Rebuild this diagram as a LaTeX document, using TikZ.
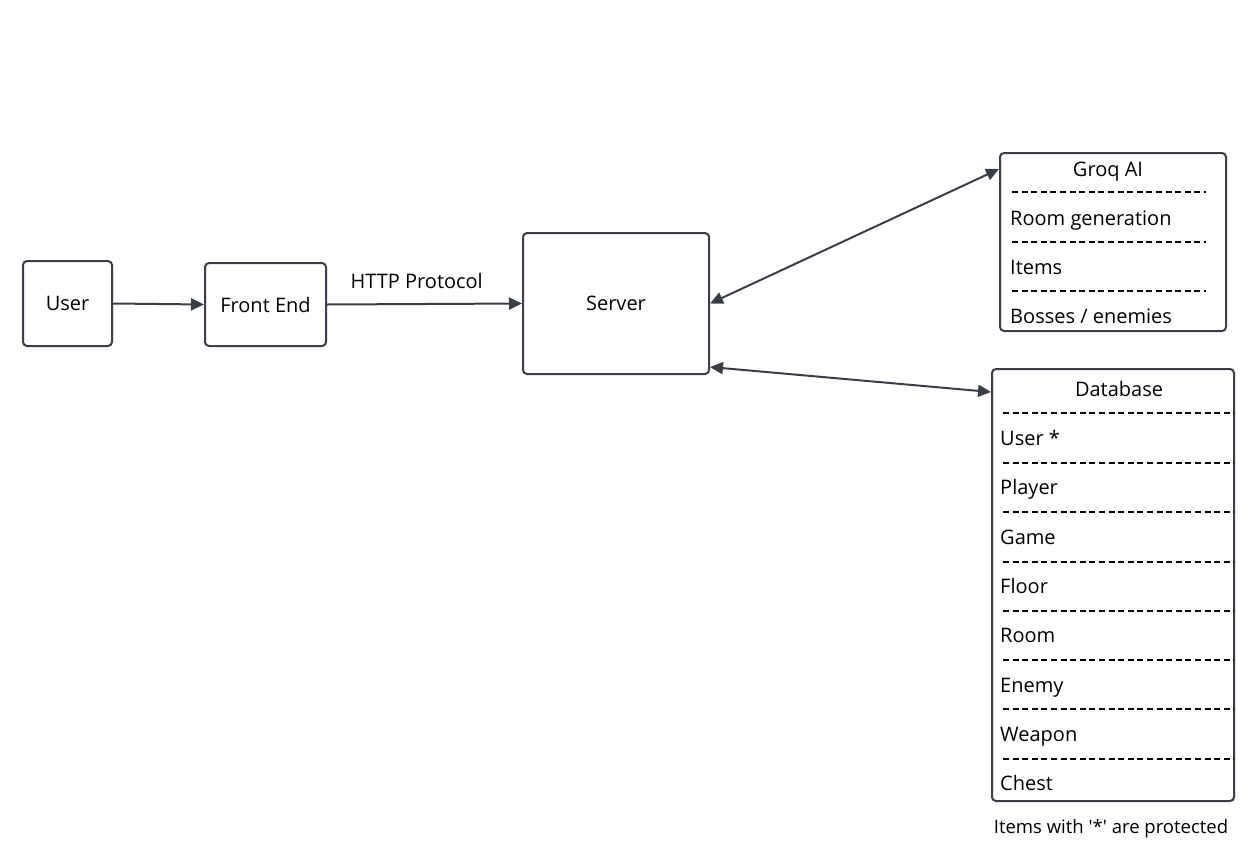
\documentclass[tikz,border=0pt]{standalone}
\usepackage{fontspec}
\setmainfont{Open Sans}
\usetikzlibrary{arrows.meta,calc}
\definecolor{ink}{HTML}{3A3F47}
\begin{document}
\begin{tikzpicture}[x=1pt,y=-1pt,
  box/.style={draw=ink,line width=2pt,rounded corners=4pt,fill=white,font=\fontsize{20}{24}\selectfont},
  lbl/.style={inner sep=0pt,font=\fontsize{20}{24}\selectfont,text=black},
  note/.style={inner sep=0pt,font=\fontsize{18.5}{22}\selectfont,text=black},
  sep/.style={draw=black,line width=1.6pt,dash pattern=on 6pt off 3.6pt},
  conn/.style={draw=ink,line width=2pt,-{Triangle[length=13pt,width=12pt]}},
  biconn/.style={draw=ink,line width=2pt,{Triangle[length=13pt,width=12pt]}-{Triangle[length=13pt,width=12pt]}}]
\useasboundingbox (0,0) rectangle (1255,857);
% boxes
\node[box,minimum width=89pt,minimum height=85pt] (user) at (67.5,303.5) {User};
\node[box,minimum width=121pt,minimum height=83pt] (front) at (265.5,304.5) {Front End};
\node[box,minimum width=186pt,minimum height=141pt] (server) at (616,303.5) {Server};
\node[box,minimum width=226pt,minimum height=178pt] (groq) at (1113,242) {};
\node[box,minimum width=242pt,minimum height=432pt] (db) at (1113,585) {};
% groq contents
\node[lbl,anchor=base] (groqt) at (1108,176) {Groq AI};
\draw[sep] (1012,192) -- (1206,192);
\node[lbl,anchor=base west] (g1) at (1010,225) {Room generation};
\draw[sep] (1012,242) -- (1206,242);
\node[lbl,anchor=base west] (g2) at (1010,274) {Items};
\draw[sep] (1012,291) -- (1206,291);
\node[lbl,anchor=base west] (g3) at (1010,323) {Bosses / enemies};
% database contents
\node[lbl,anchor=base] (dbt) at (1119,396) {Database};
\foreach \y in {413,463,512,562,611,660,709,759}{\draw[sep] (1003,\y) -- (1234,\y);}
\node[lbl,anchor=base west] (d1) at (1000,445) {User *};
\node[lbl,anchor=base west] (d2) at (1000,494) {Player};
\node[lbl,anchor=base west] (d3) at (1000,544) {Game};
\node[lbl,anchor=base west] (d4) at (1000,593) {Floor};
\node[lbl,anchor=base west] (d5) at (1000,642) {Room};
\node[lbl,anchor=base west] (d6) at (1000,692) {Enemy};
\node[lbl,anchor=base west] (d7) at (1000,741) {Weapon};
\node[lbl,anchor=base west] (d8) at (1000,790) {Chest};
\node[note,anchor=base] (foot) at (1111,833) {Items with \textquotesingle*\textquotesingle{} are protected};
% connectors
\draw[conn] (user.east) -- (front.west);
\draw[conn] (front.east) -- node[lbl,above=14pt,pos=0.46] (http) {HTTP Protocol} (server.west);
\draw[biconn] (server.east) -- ([yshift=-17pt]groq.north west);
\draw[biconn] ([yshift=8pt]server.south east) -- ([yshift=-24pt]db.north west);
\end{tikzpicture}
\end{document}
